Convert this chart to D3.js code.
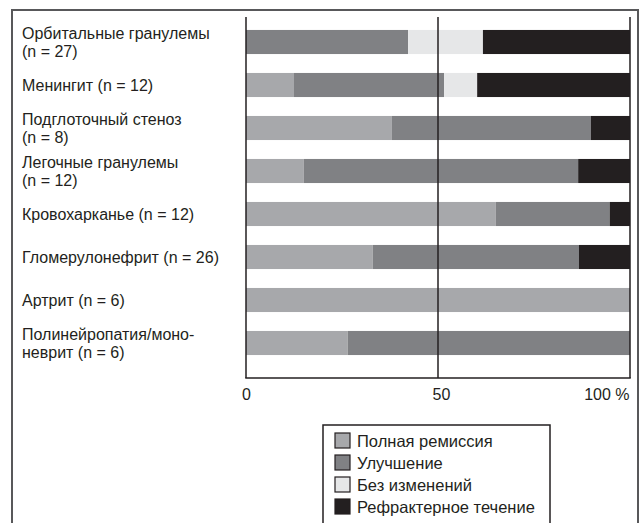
<!DOCTYPE html>
<html>
<head>
<meta charset="utf-8">
<script src="https://cdn.jsdelivr.net/npm/d3@7"></script>
<style>
  html, body { margin: 0; padding: 0; background: #fff; }
  svg { display: block; }
  text { font-family: "Liberation Sans", Arial, sans-serif; fill: #231f20; }
</style>
</head>
<body>
<svg id="chart" width="642" height="523"></svg>
<script>
// Outcome by organ manifestation, share of patients (%)
const categories = [
  ["Орбитальные гранулемы", "(n = 27)"],
  ["Менингит (n = 12)"],
  ["Подглоточный стеноз", "(n = 8)"],
  ["Легочные гранулемы", "(n = 12)"],
  ["Кровохарканье (n = 12)"],
  ["Гломерулонефрит (n = 26)"],
  ["Артрит (n = 6)"],
  ["Полинейропатия/моно-", "неврит (n = 6)"]
];
const remission   = [0,    12.5, 38.0, 15.0, 65.0, 33.0, 100, 26.5];
const improvement = [42.2, 39.1, 51.8, 71.5, 29.7, 53.7, 0,   73.5];
const noChange    = [19.5, 8.6,  0,    0,    0,    0,    0,   0];
const refractory  = [38.3, 39.8, 10.2, 13.5, 5.3,  13.3, 0,   0];

const seriesNames = ["Полная ремиссия", "Улучшение", "Без изменений", "Рефрактерное течение"];
const seriesColors = ["#a7a8ab", "#808184", "#e6e7e8", "#231f20"];
const tickValues = [0, 50, 100];
const tickLabels = ["0", "50", "100 %"];

const svg = d3.select("#chart");

// outer frame (open at the bottom)
svg.append("path")
  .attr("d", "M12,530 L12,10 L638,10 L638,530")
  .attr("fill", "none").attr("stroke", "#58585a").attr("stroke-width", 2);

const x = d3.scaleLinear().domain([0, 100]).range([246, 630]);
const y = d3.scaleBand().domain(d3.range(categories.length))
  .range([20.5, 364.5]).paddingInner(0.44).paddingOuter(0.22);

const rows = categories.map((c, i) => ({
  i,
  "Полная ремиссия": remission[i],
  "Улучшение": improvement[i],
  "Без изменений": noChange[i],
  "Рефрактерное течение": refractory[i]
}));
const stacked = d3.stack().keys(seriesNames)(rows);

svg.append("g").selectAll("g")
  .data(stacked).join("g")
  .attr("fill", (d, k) => seriesColors[k])
  .selectAll("rect")
  .data(d => d).join("rect")
  .attr("x", d => x(d[0]))
  .attr("width", d => Math.max(0, x(d[1]) - x(d[0])))
  .attr("y", (d, i) => y(i))
  .attr("height", y.bandwidth());

// plot frame lines: 0, 50, 100 and bottom
const plotTop = 17, plotBottom = 378;
svg.append("g").selectAll("line")
  .data(tickValues).join("line")
  .attr("x1", d => x(d)).attr("x2", d => x(d))
  .attr("y1", plotTop).attr("y2", plotBottom)
  .attr("stroke", "#231f20").attr("stroke-width", 1.5);
svg.append("line")
  .attr("x1", x(0) - 0.75).attr("x2", x(100) + 0.75)
  .attr("y1", plotBottom).attr("y2", plotBottom)
  .attr("stroke", "#231f20").attr("stroke-width", 1.5);

// x axis labels
const axis = d3.axisBottom(x).tickValues(tickValues).tickSize(0).tickPadding(11)
  .tickFormat((d, i) => tickLabels[i]);
const ag = svg.append("g").attr("transform", `translate(0,${plotBottom})`).call(axis);
ag.select(".domain").remove();
ag.selectAll("text")
  .attr("font-family", "Liberation Sans, Arial, sans-serif")
  .attr("font-size", 16).attr("fill", "#231f20")
  .attr("text-anchor", (d, i) => i === tickValues.length - 1 ? "end" : "middle")
  .attr("dx", (d, i) => i === 1 ? 3 : (i === 2 ? -1 : 0));

// category labels
const lineH = 18;
const lab = svg.append("g").selectAll("text")
  .data(categories).join("text")
  .attr("font-size", 16)
  .attr("x", 22)
  .attr("y", (d, i) => y(i) + y.bandwidth() / 2 - (d.length - 1) * lineH / 2 + 5.5);
lab.selectAll("tspan")
  .data(d => d).join("tspan")
  .attr("x", 22)
  .attr("dy", (d, j) => j === 0 ? 0 : lineH)
  .text(d => d);

// legend
svg.append("rect")
  .attr("x", 323).attr("y", 425).attr("width", 227).attr("height", 140)
  .attr("fill", "#fff").attr("stroke", "#231f20").attr("stroke-width", 1.5);
const lg = svg.append("g").selectAll("g")
  .data(seriesNames).join("g")
  .attr("transform", (d, i) => `translate(335,${433 + i * 22})`);
lg.append("rect")
  .attr("width", 15).attr("height", 15)
  .attr("fill", (d, i) => seriesColors[i])
  .attr("stroke", "#231f20").attr("stroke-width", 1.2);
lg.append("text")
  .attr("x", 22).attr("y", 13.5)
  .attr("font-size", 16.5)
  .text(d => d);
</script>
</body>
</html>
